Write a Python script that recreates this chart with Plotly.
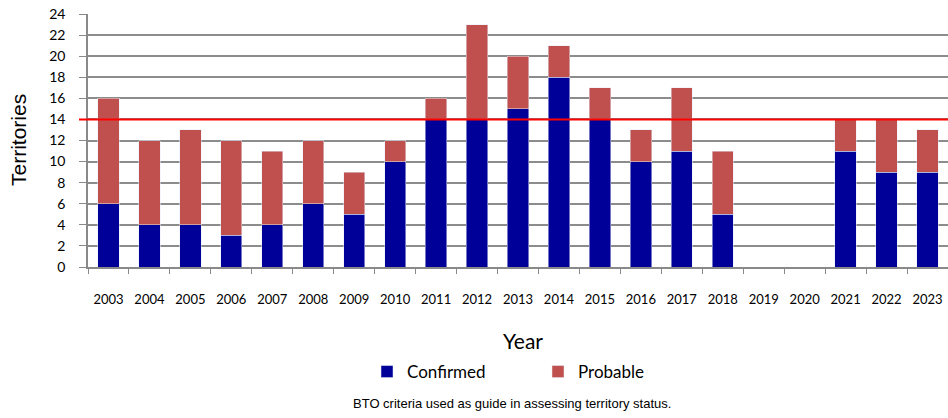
import plotly.graph_objects as go

years = [str(y) for y in range(2003, 2024)]
confirmed = [6, 4, 4, 3, 4, 6, 5, 10, 14, 14, 15, 18, 14, 10, 11, 5, 0, 0, 11, 9, 9]
probable = [10, 8, 9, 9, 7, 6, 4, 2, 2, 9, 5, 3, 3, 3, 6, 6, 0, 0, 3, 5, 4]
threshold = 14

W, H = 948, 418
L, R, T = 88, 0, 14
BOTTOM = 267
B = H - BOTTOM
ph = H - T - B
pw = W - L - R

def py(y):
    return (BOTTOM - y) / ph

def px(x):
    return (x - L) / pw

fig = go.Figure()
fig.add_trace(go.Bar(x=years, y=confirmed, name="Confirmed", marker_color="#000099"))
fig.add_trace(go.Bar(x=years, y=probable, name="Probable", marker_color="#C0504D"))

fig.add_shape(type="line", xref="paper", yref="y", x0=px(79), x1=1, y0=threshold, y1=threshold,
              line=dict(color="#FF0000", width=2))

fig.update_layout(
    width=W, height=H,
    margin=dict(l=L, r=R, t=T, b=B, autoexpand=False),
    barmode="stack", bargap=0.48,
    plot_bgcolor="white", paper_bgcolor="white",
    font=dict(family="Liberation Sans", color="black"),
    showlegend=True,
    legend=dict(orientation="h", x=px(367), xanchor="left", y=py(372), yanchor="middle",
                font=dict(family="Lato", size=17), entrywidth=126,
                itemwidth=30, traceorder="normal"),
    xaxis=dict(type="category", showgrid=False, showline=True, linecolor="#898989", linewidth=1.5,
               ticks="outside", tickson="boundaries", ticklen=5, tickcolor="#898989",
               tickfont=dict(family="Lato", size=13), ticklabelstandoff=20),
    yaxis=dict(range=[0, 24], dtick=2, showgrid=True, gridcolor="#8C8C8C", gridwidth=1.5,
               showline=True, linecolor="#898989", linewidth=1.5, ticks="outside", ticklen=7,
               tickcolor="#898989", tickfont=dict(family="Lato", size=14),
               ticklabelstandoff=11, zeroline=False),
    annotations=[
        dict(text="Territories", xref="paper", yref="paper", x=px(18), y=py(140), xanchor="center",
             yanchor="middle", textangle=-90, showarrow=False,
             font=dict(family="Liberation Sans", size=21)),
        dict(text="Year", xref="paper", yref="paper", x=px(523), y=py(340), xanchor="center",
             yanchor="middle", showarrow=False, font=dict(family="Lato", size=21)),
        dict(text="BTO criteria used as guide in assessing territory status.", xref="paper",
             yref="paper", x=px(512), y=py(403), xanchor="center", yanchor="middle", showarrow=False,
             font=dict(family="Liberation Sans", size=13)),
    ],
)

fig.write_html(
    "out.html",
    config={"displayModeBar": False},
    post_script="document.body.style.margin='0';document.body.style.overflow='hidden';",
)
